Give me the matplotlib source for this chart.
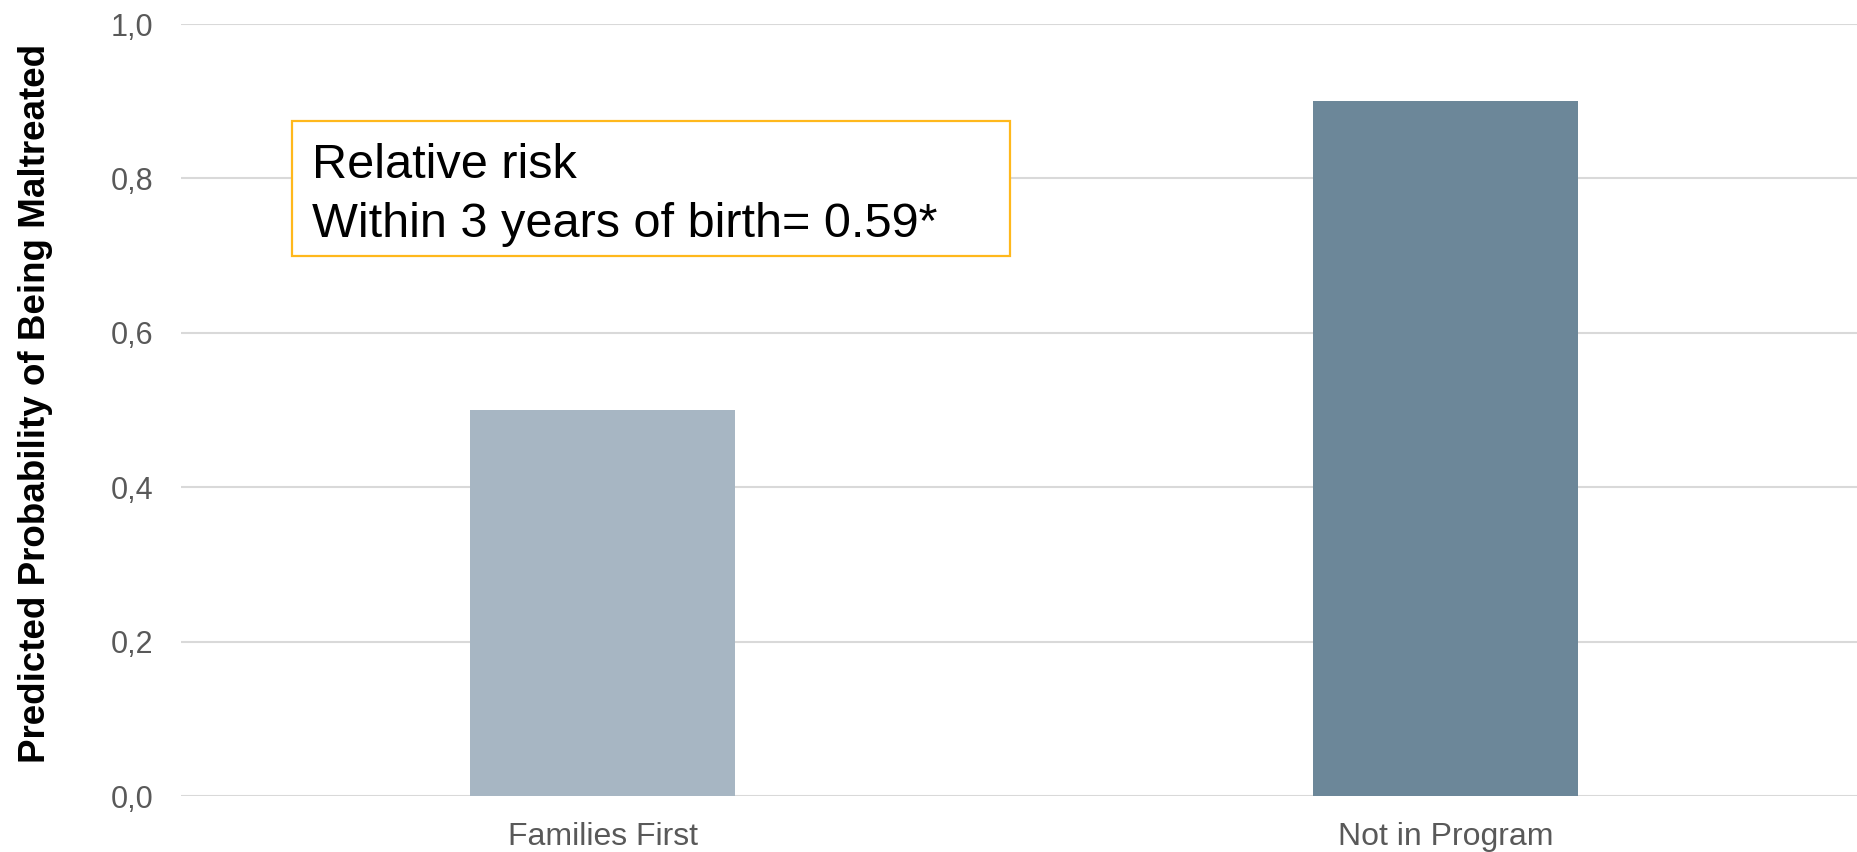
import numpy as np
from matplotlib import pyplot as plt
from matplotlib.patches import Rectangle
from matplotlib.ticker import FixedLocator

plt.rcParams['font.family'] = ['Liberation Sans', 'DejaVu Sans']

groups = ['Families First', 'Not in Program']
probs = [0.50, 0.90]
bar_colors = ['#A7B6C3', '#6C8799']
yticks = [0.0, 0.2, 0.4, 0.6, 0.8, 1.0]
ytick_labels = ['0,0', '0,2', '0,4', '0,6', '0,8', '1,0']
note_lines = ['Relative risk', 'Within 3 years of birth= 0.59*']

W, H = 1857, 852
fig = plt.figure(figsize=(W/100, H/100), dpi=100)
ax = fig.add_axes([181/W, 56/H, 1 - 181/W, 772/H])

x = np.arange(len(groups))
ax.bar(x, probs, width=0.314, color=bar_colors, zorder=2)

ax.set_xlim(-0.5, 1.488)
ax.set_ylim(0, 1.0)
ax.yaxis.set_major_locator(FixedLocator(yticks))
ax.set_yticklabels(ytick_labels)
ax.set_xticks(x)
ax.set_xticklabels(groups)
ax.tick_params(axis='y', length=0, labelsize=22, labelcolor='#595959', pad=20)
ax.tick_params(axis='x', length=0, labelsize=23, labelcolor='#595959', pad=19)
ax.grid(axis='y', color='#D9D9D9', linewidth=1.5, zorder=0)
for s in ax.spines.values():
    s.set_visible(False)

ax.set_ylabel('Predicted Probability of Being Maltreated', fontsize=26.5,
              fontweight='bold', color='black')
ax.yaxis.set_label_coords((53 - 181)/(W - 181), 0.508)

# relative risk note in an outlined box
fig.add_artist(Rectangle((292/W, (H - 256)/H), 718/W, 135/H,
                         transform=fig.transFigure, facecolor='white',
                         edgecolor='#FFB81C', linewidth=1.6, zorder=3))
for line, base in zip(note_lines, [178, 237]):
    fig.text(312/W, (H - base)/H, line, fontsize=35, color='black',
             ha='left', va='baseline', zorder=4)

fig.savefig('out.png', dpi=100)
